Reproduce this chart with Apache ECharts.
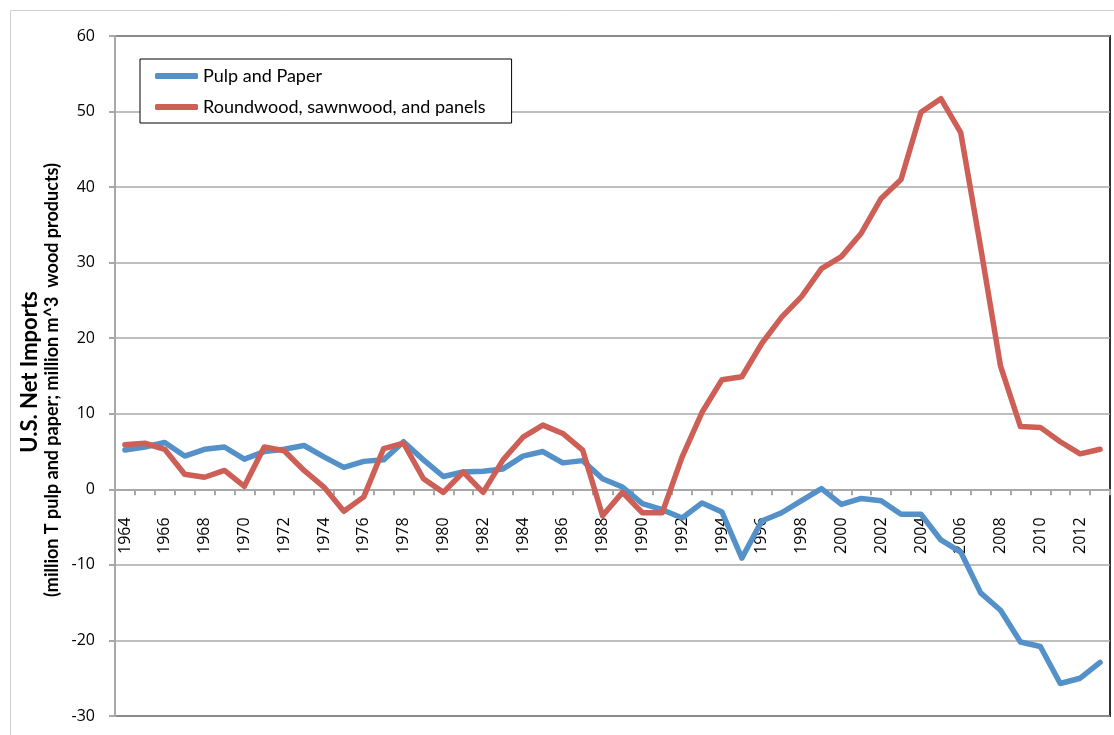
<!DOCTYPE html>
<html>
<head>
<meta charset="utf-8">
<script src="https://cdn.jsdelivr.net/npm/echarts@6/dist/echarts.min.js"></script>
<style>
html,body{margin:0;padding:0;background:#fff;}
#chart{width:1114px;height:735px;}
</style>
</head>
<body>
<div id="chart"></div>
<script>
var years = ['1964','1965','1966','1967','1968','1969','1970','1971','1972','1973',
             '1974','1975','1976','1977','1978','1979','1980','1981','1982','1983',
             '1984','1985','1986','1987','1988','1989','1990','1991','1992','1993',
             '1994','1995','1996','1997','1998','1999','2000','2001','2002','2003',
             '2004','2005','2006','2007','2008','2009','2010','2011','2012','2013'];
var pulpAndPaper = [5.2, 5.6, 6.2, 4.4, 5.3, 5.6, 4.0, 5.0, 5.3, 5.8,
                    4.3, 2.9, 3.7, 3.9, 6.3, 3.9, 1.7, 2.3, 2.4, 2.7,
                    4.4, 5.0, 3.5, 3.8, 1.4, 0.3, -1.9, -2.7, -3.8, -1.8,
                    -3.0, -9.1, -4.2, -3.1, -1.5, 0.1, -2.0, -1.2, -1.5, -3.3,
                    -3.3, -6.7, -8.3, -13.7, -16.0, -20.2, -20.8, -25.7, -25.0, -22.9];
var woodProducts = [5.9, 6.1, 5.3, 2.0, 1.6, 2.5, 0.4, 5.6, 5.1, 2.5,
                    0.3, -2.9, -1.0, 5.4, 6.1, 1.4, -0.4, 2.3, -0.4, 3.9,
                    6.9, 8.5, 7.4, 5.2, -3.5, -0.4, -3.1, -3.1, 4.3, 10.2,
                    14.5, 14.9, 19.3, 22.8, 25.5, 29.2, 30.8, 33.9, 38.5, 41.0,
                    49.9, 51.7, 47.2, 32.0, 16.3, 8.3, 8.2, 6.3, 4.7, 5.3];
var seriesNames = ['Pulp and Paper', 'Roundwood, sawnwood, and panels'];
var yTitle = 'U.S. Net Imports';
var ySubtitle = '(million T pulp and paper; million m^3  wood products)';
var yMin = -30, yMax = 60, yStep = 10;

var blue = '#5591c9';
var red = '#cd5f56';
var gridGray = '#a8a8a8';
var labelFont = 'Open Sans';

var gridTop = 36, gridBottom = 19, chartH = 735;
var plotH = chartH - gridTop - gridBottom;
// place the category axis at value 0 (Excel style "axis crosses at 0")
var zeroOffset = -plotH * (0 - yMin) / (yMax - yMin);

var chart = echarts.init(document.getElementById('chart'), null, {renderer: 'canvas'});
chart.setOption({
  animation: false,
  backgroundColor: '#fff',
  grid: {left: 115, right: 4, top: gridTop, bottom: gridBottom, containLabel: false,
         outerBoundsMode: 'none',
         show: true, borderColor: '#333', borderWidth: 2, backgroundColor: 'transparent'},
  legend: {
    left: 140, top: 59,
    orient: 'vertical',
    backgroundColor: '#fff',
    borderColor: '#000', borderWidth: 1,
    padding: [8, 26, 7, 15],
    itemGap: 13,
    itemWidth: 43, itemHeight: 6,
    icon: 'roundRect',
    textStyle: {fontFamily: 'Lato', fontSize: 18, color: '#000'},
    data: seriesNames
  },
  xAxis: {
    type: 'category', data: years, boundaryGap: true,
    position: 'bottom', offset: zeroOffset,
    axisLine: {onZero: false, lineStyle: {color: gridGray, width: 2}},
    axisTick: {show: true, interval: 0, length: 6, lineStyle: {color: gridGray, width: 2}},
    axisLabel: {interval: 1, rotate: 90, margin: 28, color: '#000', fontFamily: labelFont, fontSize: 16},
    splitLine: {show: false}
  },
  yAxis: {
    type: 'value', min: yMin, max: yMax, interval: yStep,
    axisLine: {show: true, lineStyle: {color: gridGray, width: 2}},
    axisTick: {show: true, length: 6, lineStyle: {color: gridGray, width: 2}},
    axisLabel: {margin: 20, color: '#000', fontFamily: labelFont, fontSize: 16},
    splitLine: {show: true, lineStyle: {color: gridGray, width: 1.5}}
  },
  graphic: [{
    type: 'rect', silent: true, z: -10,
    shape: {x: 10.5, y: 10.5, width: 1200, height: 1000},
    style: {fill: 'none', stroke: '#cfcfcf', lineWidth: 1}
  }, {
    type: 'text', x: 30, y: 372, rotation: Math.PI / 2,
    style: {text: yTitle, fontFamily: 'Lato', fontWeight: 'bold', fontSize: 22,
            fill: '#000', align: 'center', verticalAlign: 'middle'}
  }, {
    type: 'text', x: 52, y: 380, rotation: Math.PI / 2,
    style: {text: ySubtitle, fontFamily: 'Lato', fontWeight: 'bold', fontSize: 18,
            fill: '#000', align: 'center', verticalAlign: 'middle'}
  }],
  series: [{
    name: seriesNames[0], type: 'line', data: pulpAndPaper,
    symbol: 'none', color: blue,
    lineStyle: {width: 5.5, color: blue, cap: 'round', join: 'round'}
  }, {
    name: seriesNames[1], type: 'line', data: woodProducts,
    symbol: 'none', color: red,
    lineStyle: {width: 5.5, color: red, cap: 'round', join: 'round'}
  }]
});
</script>
</body>
</html>
